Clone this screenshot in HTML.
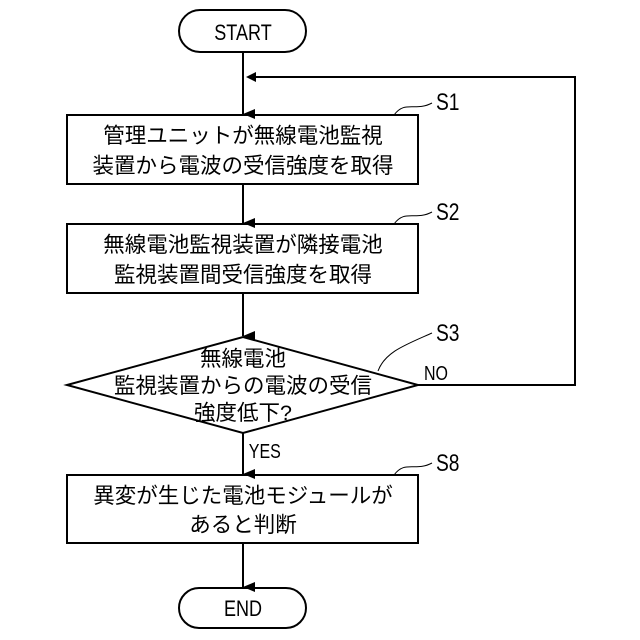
<!DOCTYPE html>
<html><head><meta charset="utf-8"><style>body{margin:0;background:#fff}svg{display:block}text{font-family:"Liberation Sans","Noto Sans CJK JP",sans-serif;fill:#000}</style></head><body>
<svg width="640" height="640" viewBox="0 0 640 640" xmlns="http://www.w3.org/2000/svg">
<defs><marker id="a" markerWidth="10" markerHeight="12" refX="5" refY="12" orient="auto-start-reverse" markerUnits="userSpaceOnUse" viewBox="0 0 10 12"><path d="M0,0 L10,0 L5,12 Z" fill="#000"/></marker></defs>
<g stroke="#000" stroke-width="2" fill="none">
<rect x="179" y="10" width="127" height="42" rx="21"/>
<rect x="179" y="588" width="127" height="40" rx="20"/>
<rect x="67" y="115" width="351" height="69"/>
<rect x="67" y="224" width="351" height="69"/>
<rect x="67" y="475" width="351" height="68"/>
<polygon points="67,385 243,337 418,385 243,433"/>
<line x1="243" y1="52" x2="243" y2="114" marker-end="url(#a)"/>
<line x1="243" y1="184" x2="243" y2="223" marker-end="url(#a)"/>
<line x1="243" y1="293" x2="243" y2="336" marker-end="url(#a)"/>
<line x1="243" y1="433" x2="243" y2="474" marker-end="url(#a)"/>
<line x1="243" y1="543" x2="243" y2="587" marker-end="url(#a)"/>
<polyline points="418,385 575,385 575,77 256,77"/>
<path d="M246,77 L256,72 L256,82 Z" fill="#000" stroke="none"/>
<path d="M394,115 C405,100 415,112 432,103" stroke-width="1"/>
<path d="M394,224 C405,209 415,221 432,212" stroke-width="1"/>
<path d="M378,371 C385,352 405,345 432,333" stroke-width="1"/>
<path d="M394,475 C405,460 415,472 432,463" stroke-width="1"/>
</g>
<g font-size="21.5">
<text x="243" y="40" text-anchor="middle" font-size="22" transform="translate(243 0) scale(0.82 1) translate(-243 0)">START</text>
<text x="243" y="616" text-anchor="middle" font-size="22" transform="translate(243 0) scale(0.82 1) translate(-243 0)">END</text>
<text x="243" y="143" text-anchor="middle">管理ユニットが無線電池監視</text>
<text x="243" y="173" text-anchor="middle">装置から電波の受信強度を取得</text>
<text x="243" y="252" text-anchor="middle">無線電池監視装置が隣接電池</text>
<text x="243" y="282" text-anchor="middle">監視装置間受信強度を取得</text>
<text x="243" y="366" text-anchor="middle">無線電池</text>
<text x="243" y="393" text-anchor="middle">監視装置からの電波の受信</text>
<text x="243" y="420" text-anchor="middle">強度低下?</text>
<text x="243" y="503" text-anchor="middle">異変が生じた電池モジュールが</text>
<text x="243" y="532" text-anchor="middle">あると判断</text>
</g>
<g font-size="24" transform="scale(0.8 1)">
<text x="545" y="110">S1</text>
<text x="545" y="220">S2</text>
<text x="545" y="341">S3</text>
<text x="545" y="471">S8</text>
<text x="530" y="380" font-size="20">NO</text>
<text x="311" y="458" font-size="20">YES</text>
</g>
</svg>
</body></html>
